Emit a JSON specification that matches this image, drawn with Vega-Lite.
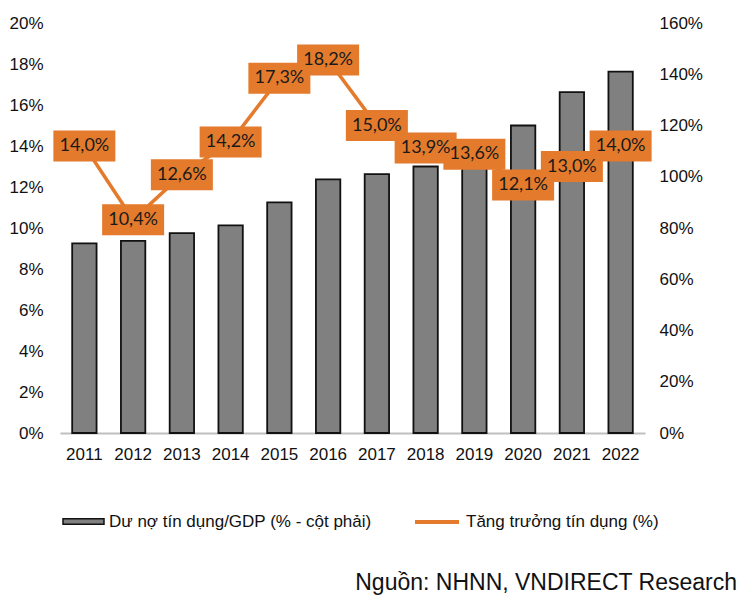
{
  "$schema": "https://vega.github.io/schema/vega-lite/v6.json",
  "width": 585,
  "height": 410,
  "autosize": {"type": "none"},
  "padding": {"left": 60, "top": 23, "right": 97, "bottom": 167},
  "background": "white",
  "config": {"view": {"stroke": null}, "font": "Liberation Sans"},
  "title": {
    "text": "Nguồn: NHNN, VNDIRECT Research",
    "orient": "bottom",
    "anchor": "end",
    "frame": "group",
    "fontSize": 23,
    "fontWeight": "normal",
    "color": "#111111",
    "dx": 92,
    "offset": 42
  },
  "data": {
    "values": [
      {"year": "2011", "credit": 14.0, "gdp": 74},
      {"year": "2012", "credit": 10.4, "gdp": 75},
      {"year": "2013", "credit": 12.6, "gdp": 78},
      {"year": "2014", "credit": 14.2, "gdp": 81},
      {"year": "2015", "credit": 17.3, "gdp": 90},
      {"year": "2016", "credit": 18.2, "gdp": 99},
      {"year": "2017", "credit": 15.0, "gdp": 101},
      {"year": "2018", "credit": 13.9, "gdp": 104},
      {"year": "2019", "credit": 13.6, "gdp": 109},
      {"year": "2020", "credit": 12.1, "gdp": 120},
      {"year": "2021", "credit": 13.0, "gdp": 133},
      {"year": "2022", "credit": 14.0, "gdp": 141}
    ]
  },
  "encoding": {
    "x": {
      "field": "year",
      "type": "ordinal",
      "scale": {"paddingInner": 0.5, "paddingOuter": 0.25},
      "axis": {
        "title": null,
        "labelAngle": 0,
        "labelFontSize": 17,
        "labelColor": "#111111",
        "ticks": false,
        "domainColor": "#BFBFBF",
        "domainWidth": 2,
        "labelPadding": 13
      }
    }
  },
  "layer": [
    {
      "mark": {"type": "bar", "stroke": "#111111", "strokeWidth": 1.8},
      "encoding": {
        "y": {
          "field": "gdp",
          "type": "quantitative",
          "scale": {"domain": [0, 160]},
          "axis": {
            "orient": "right",
            "title": null,
            "values": [0, 20, 40, 60, 80, 100, 120, 140, 160],
            "labelExpr": "datum.value + '%'",
            "domain": false,
            "ticks": false,
            "grid": false,
            "labelPadding": 14,
            "labelFontSize": 17,
            "labelColor": "#111111"
          }
        },
        "fill": {
          "datum": "Dư nợ tín dụng/GDP (% - cột phải)",
          "scale": {"range": ["#808080"]},
          "legend": {
            "title": null,
            "orient": "none",
            "legendX": 2,
            "legendY": 477,
            "symbolType": "M-1,-0.13H1V0.13H-1Z",
            "symbolSize": 1681,
            "symbolStrokeColor": "#111111",
            "symbolStrokeWidth": 1.5,
            "labelFontSize": 17,
            "labelLimit": 0,
            "labelColor": "#111111",
            "labelOffset": 4
          }
        }
      }
    },
    {
      "transform": [
        {"calculate": "replace(format(datum.credit, '.1f'), '.', ',') + '%'", "as": "lbl"}
      ],
      "encoding": {
        "y": {
          "field": "credit",
          "type": "quantitative",
          "scale": {"domain": [0, 20]},
          "axis": {
            "orient": "left",
            "title": null,
            "values": [0, 2, 4, 6, 8, 10, 12, 14, 16, 18, 20],
            "labelExpr": "datum.value + '%'",
            "domain": false,
            "ticks": false,
            "grid": false,
            "labelPadding": 17,
            "labelFontSize": 17,
            "labelColor": "#111111"
          }
        }
      },
      "layer": [
        {
          "mark": {"type": "line", "strokeWidth": 3.5},
          "encoding": {
            "stroke": {
              "datum": "Tăng trưởng tín dụng (%)",
              "scale": {"range": ["#E47A2C"]},
              "legend": {
                "title": null,
                "orient": "none",
                "legendX": 353,
                "legendY": 475,
                "symbolType": "stroke",
                "symbolSize": 1936,
                "symbolStrokeWidth": 4,
                "labelFontSize": 17,
                "labelLimit": 0,
                "labelColor": "#111111",
                "labelOffset": 5
              }
            }
          }
        },
        {
          "mark": {
            "type": "point",
            "shape": "M-1,-0.5H1V0.5H-1Z",
            "size": 3844,
            "filled": true,
            "fill": "#E47A2C",
            "opacity": 1,
            "strokeWidth": 0
          }
        },
        {
          "mark": {"type": "text", "font": "Lato", "fontSize": 18, "color": "#1a1a1a"},
          "encoding": {"text": {"field": "lbl"}}
        }
      ]
    }
  ],
  "resolve": {"scale": {"y": "independent"}}
}
